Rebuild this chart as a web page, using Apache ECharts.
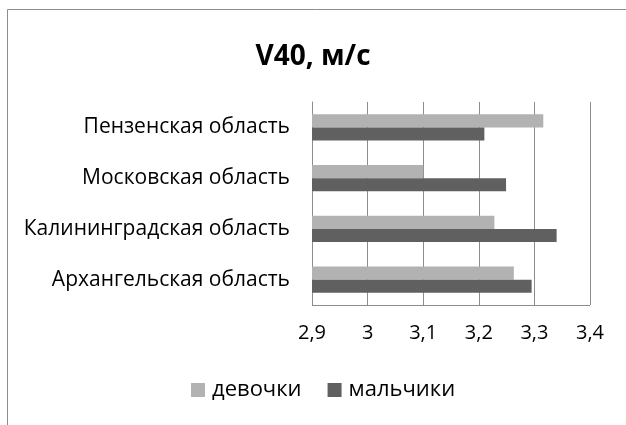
<!DOCTYPE html>
<html>
<head>
<meta charset="utf-8">
<script src="https://cdn.jsdelivr.net/npm/echarts@6/dist/echarts.min.js"></script>
<style>
  html, body { margin: 0; padding: 0; background: #fff; }
  #chart { width: 626px; height: 425px; }
</style>
</head>
<body>
<div id="chart"></div>
<script>
// regions, bottom to top as the chart draws them
var regions = ['Архангельская область', 'Калининградская область', 'Московская область', 'Пензенская область'];
var girls = [3.263, 3.228, 3.10, 3.316];
var boys = [3.295, 3.34, 3.249, 3.21];
var seriesNames = ['девочки', 'мальчики'];

var fontName = '"Open Sans", "Noto Sans", sans-serif';

var chart = echarts.init(document.getElementById('chart'));

var option = {
    animation: false,
    textStyle: { fontFamily: fontName },
    title: {
        text: 'V40, м/с',
        left: 'center',
        top: 38,
        textStyle: { fontSize: 28, fontWeight: 'bold', color: '#000', fontFamily: fontName }
    },
    legend: {
        data: seriesNames,
        bottom: 19,
        left: 186,
        itemWidth: 14,
        itemHeight: 14,
        itemGap: 26,
        icon: 'rect',
        textStyle: { fontSize: 22, color: '#000', padding: [0, 0, 0, 2] }
    },
    grid: {
        left: 312,
        right: 36,
        top: 102,
        bottom: 120,
        containLabel: false
    },
    xAxis: {
        type: 'value',
        min: 2.9,
        max: 3.4,
        interval: 0.1,
        axisLine: { show: false },
        axisTick: { show: false },
        splitLine: { show: true, lineStyle: { color: '#8c8c8c', width: 1 } },
        axisLabel: {
            fontSize: 20,
            color: '#000',
            margin: 18,
            formatter: function(v) {
                return String(Math.round(v * 10) / 10).replace('.', ',');
            }
        }
    },
    yAxis: {
        type: 'category',
        data: regions,
        axisLine: { show: true, lineStyle: { color: '#8c8c8c' } },
        axisTick: { show: false },
        axisLabel: { fontSize: 21, color: '#000', margin: 22 }
    },
    series: [{
        name: seriesNames[0],
        type: 'bar',
        data: girls,
        barGap: '0%',
        barCategoryGap: '48%',
        itemStyle: { color: '#b2b2b2' }
    }, {
        name: seriesNames[1],
        type: 'bar',
        data: boys,
        barGap: '0%',
        barCategoryGap: '48%',
        itemStyle: { color: '#606060' }
    }],
    graphic: [{
        type: 'polyline',
        shape: { points: [[7.5, 425], [7.5, 9.5], [626, 9.5]] },
        style: { stroke: '#8c8c8c', lineWidth: 1, fill: null }
    }, {
        type: 'line',
        shape: { x1: 312, y1: 305.5, x2: 590, y2: 305.5 },
        style: { stroke: '#8c8c8c', lineWidth: 1 }
    }]
};

chart.setOption(option);
</script>
</body>
</html>
